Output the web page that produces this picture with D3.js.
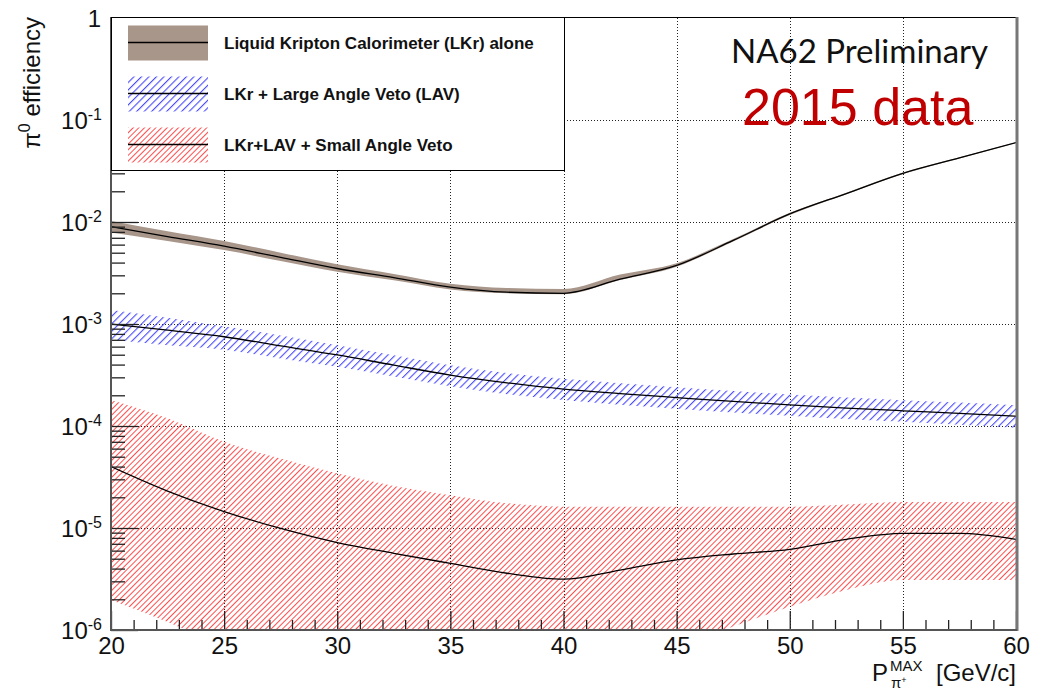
<!DOCTYPE html>
<html>
<head>
<meta charset="utf-8">
<script src="https://cdn.jsdelivr.net/npm/d3@7"></script>
<style>
  body { margin: 0; background: #fff; }
  svg { display: block; font-family: "Liberation Sans", Arial, sans-serif; }
</style>
</head>
<body>
<div id="chart"></div>
<script>
// momentum bins (GeV/c)
const pMax = [20, 22.5, 25, 27.5, 30, 32.5, 35, 37.5, 40, 42.5, 45, 47.5, 50, 52.5, 55, 57.5, 60];

// LKr alone
const lkrMid = [9.0e-3, 7.2e-3, 5.8e-3, 4.5e-3, 3.5e-3, 2.85e-3, 2.3e-3, 2.05e-3, 2.0e-3, 2.75e-3, 3.75e-3, 6.6e-3, 1.2e-2, 1.9e-2, 3.0e-2, 4.25e-2, 6.0e-2];
const lkrHi  = [1.02e-2, 8.1e-3, 6.5e-3, 5.0e-3, 3.85e-3, 3.1e-3, 2.48e-3, 2.25e-3, 2.2e-3, 3.05e-3, 3.95e-3, 6.8e-3, 1.23e-2, 1.94e-2, 3.05e-2, 4.32e-2, 6.05e-2];
const lkrLo  = [7.9e-3, 6.5e-3, 5.3e-3, 4.15e-3, 3.25e-3, 2.68e-3, 2.18e-3, 2.0e-3, 1.96e-3, 2.7e-3, 3.65e-3, 6.45e-3, 1.17e-2, 1.87e-2, 2.95e-2, 4.2e-2, 5.95e-2];

// LKr + LAV
const lavMid = [1.0e-3, 8.7e-4, 7.5e-4, 6.1e-4, 4.97e-4, 3.95e-4, 3.16e-4, 2.65e-4, 2.3e-4, 2.08e-4, 1.9e-4, 1.74e-4, 1.61e-4, 1.5e-4, 1.41e-4, 1.33e-4, 1.25e-4];
const lavHi  = [1.37e-3, 1.15e-3, 9.5e-4, 7.7e-4, 6.2e-4, 4.95e-4, 3.95e-4, 3.3e-4, 2.9e-4, 2.62e-4, 2.4e-4, 2.2e-4, 2.04e-4, 1.9e-4, 1.79e-4, 1.7e-4, 1.6e-4];
const lavLo  = [7.0e-4, 6.2e-4, 5.6e-4, 4.6e-4, 3.8e-4, 3.05e-4, 2.45e-4, 2.05e-4, 1.8e-4, 1.62e-4, 1.48e-4, 1.36e-4, 1.26e-4, 1.17e-4, 1.1e-4, 1.03e-4, 9.6e-5];

// LKr + LAV + SAV
const savMid = [4.0e-5, 2.3e-5, 1.45e-5, 9.9e-6, 7.2e-6, 5.65e-6, 4.5e-6, 3.6e-6, 3.15e-6, 3.87e-6, 4.86e-6, 5.56e-6, 6.18e-6, 7.75e-6, 8.87e-6, 8.87e-6, 7.75e-6];
const savHi  = [1.8e-4, 1.19e-4, 7.0e-5, 4.8e-5, 3.44e-5, 2.58e-5, 2.1e-5, 1.75e-5, 1.62e-5, 1.62e-5, 1.62e-5, 1.62e-5, 1.62e-5, 1.7e-5, 1.8e-5, 1.8e-5, 1.8e-5];
const savLo  = [1.97e-6, 1.2e-6, 7e-7, 5e-7, 4e-7, 4e-7, 4e-7, 4e-7, 4e-7, 5e-7, 7e-7, 1.08e-6, 1.69e-6, 2.47e-6, 3.1e-6, 3.1e-6, 3.1e-6];

const legendLabels = [
    "Liquid Kripton Calorimeter (LKr) alone",
    "LKr + Large Angle Veto (LAV)",
    "LKr+LAV + Small Angle Veto"
];
const xTicks = [20, 25, 30, 35, 40, 45, 50, 55, 60];
const xGrid = [25, 30, 35, 40, 45, 50, 55];
const yTicks = [1e-6, 1e-5, 1e-4, 1e-3, 1e-2, 1e-1, 1];
const yGrid = [1e-5, 1e-4, 1e-3, 1e-2, 1e-1];

const W = 1038, H = 690;
const L = 111, R = 1016, T = 18, B = 630;

const svg = d3.select("#chart").append("svg")
    .attr("width", W)
    .attr("height", H);

const x = d3.scaleLinear().domain([20, 60]).range([L, R]);
const y = d3.scaleLog().domain([1e-6, 1]).range([B, T]);

const defs = svg.append("defs");
defs.append("clipPath").attr("id", "plotClip")
    .append("rect").attr("x", L).attr("y", T).attr("width", R - L).attr("height", B - T);

// diagonal "/" hatching: a vertical bar in a rotated tile
function hatch(id, gap, color, w) {
    const p = defs.append("pattern").attr("id", id)
        .attr("patternUnits", "userSpaceOnUse")
        .attr("width", gap).attr("height", gap)
        .attr("patternTransform", "rotate(45)");
    p.append("rect")
        .attr("x", 0).attr("y", 0)
        .attr("width", w).attr("height", gap)
        .attr("fill", color);
}
hatch("hatchBlue", 5.3, "#4a4aff", 1.1);
hatch("hatchRed", 4, "#ff3a3a", 0.9);

// grid
const grid = svg.append("g").attr("stroke", "#222").attr("stroke-width", 1).attr("stroke-dasharray", "1,2");
grid.selectAll(".gx").data(xGrid).enter().append("line")
    .attr("x1", d => Math.round(x(d)) + 0.5).attr("x2", d => Math.round(x(d)) + 0.5)
    .attr("y1", T).attr("y2", B);
grid.selectAll(".gy").data(yGrid).enter().append("line")
    .attr("y1", d => Math.round(y(d)) + 0.5).attr("y2", d => Math.round(y(d)) + 0.5)
    .attr("x1", L).attr("x2", R);

// bands and lines
const series = [
    { mid: savMid, hi: savHi, lo: savLo, fill: "url(#hatchRed)" },
    { mid: lavMid, hi: lavHi, lo: lavLo, fill: "url(#hatchBlue)" },
    { mid: lkrMid, hi: lkrHi, lo: lkrLo, fill: "#a8968a" }
];

const area = d3.area().curve(d3.curveMonotoneX);
const line = d3.line().curve(d3.curveMonotoneX);
const plot = svg.append("g").attr("clip-path", "url(#plotClip)");

series.forEach(s => {
    const rows = pMax.map((p, i) => ({ p, mid: s.mid[i], hi: s.hi[i], lo: s.lo[i] }));
    plot.append("path")
        .datum(rows)
        .attr("fill", s.fill)
        .attr("d", area.x(d => x(d.p)).y0(d => y(d.lo)).y1(d => y(d.hi)));
    plot.append("path")
        .datum(rows)
        .attr("fill", "none")
        .attr("stroke", "#000")
        .attr("stroke-width", 1.3)
        .attr("d", line.x(d => x(d.p)).y(d => y(d.mid)));
});

// y axis ticks
const yMinor = [];
for (let e = -6; e < 0; e++) for (let k = 2; k <= 9; k++) yMinor.push(k * Math.pow(10, e));

svg.append("g").attr("transform", `translate(${L},0)`)
    .call(d3.axisRight(y).tickValues(yTicks).tickSize(27).tickFormat(""))
    .call(g => g.select(".domain").remove())
    .call(g => g.selectAll("line").attr("stroke", "#222").attr("stroke-width", 1.3));
svg.append("g").attr("transform", `translate(${L},0)`)
    .call(d3.axisRight(y).tickValues(yMinor).tickSize(14).tickFormat(""))
    .call(g => g.select(".domain").remove())
    .call(g => g.selectAll("line").attr("stroke", "#222").attr("stroke-width", 1.3));

// x axis ticks
const xMinor = d3.range(21, 60).filter(v => v % 5 !== 0);
svg.append("g").attr("transform", `translate(0,${B})`)
    .call(d3.axisTop(x).tickValues(xTicks).tickSize(19).tickFormat(""))
    .call(g => g.select(".domain").remove())
    .call(g => g.selectAll("line").attr("stroke", "#222").attr("stroke-width", 1.3));
svg.append("g").attr("transform", `translate(0,${B})`)
    .call(d3.axisTop(x).tickValues(xMinor).tickSize(10).tickFormat(""))
    .call(g => g.select(".domain").remove())
    .call(g => g.selectAll("line").attr("stroke", "#222").attr("stroke-width", 1.3));

// tick labels
svg.append("g").attr("transform", `translate(0,${B})`)
    .call(d3.axisBottom(x).tickValues(xTicks).tickSize(0).tickPadding(7).tickFormat(d3.format("d")))
    .call(g => g.select(".domain").remove())
    .call(g => g.selectAll("text").attr("font-size", 24).attr("fill", "#111")
        .attr("font-family", "Liberation Sans, Arial, sans-serif"));

const yLab = svg.append("g").attr("font-size", 24).attr("fill", "#111");
yTicks.forEach(v => {
    const e = Math.round(Math.log10(v));
    const t = yLab.append("text").attr("text-anchor", "end")
        .attr("x", 102).attr("y", y(v) + 9);
    if (e === 0) {
        t.attr("x", 101).text("1");
    } else {
        t.append("tspan").text("10");
        t.append("tspan").attr("font-size", 16).attr("dy", -9).text(String(e));
    }
});

// frame
svg.append("line").attr("x1", L).attr("x2", R + 1).attr("y1", T - 0.5).attr("y2", T - 0.5)
    .attr("stroke", "#000").attr("stroke-width", 1);
svg.append("line").attr("x1", R + 1).attr("x2", R + 1).attr("y1", T - 1).attr("y2", B + 1)
    .attr("stroke", "#777").attr("stroke-width", 3);
svg.append("line").attr("x1", L).attr("x2", L).attr("y1", T - 1).attr("y2", B + 1)
    .attr("stroke", "#555").attr("stroke-width", 2);
svg.append("line").attr("x1", L).attr("x2", R + 1).attr("y1", B).attr("y2", B)
    .attr("stroke", "#555").attr("stroke-width", 2);

// axis titles
const yTitle = svg.append("text").attr("transform", `translate(40,${T - 1}) rotate(-90)`)
    .attr("text-anchor", "end").attr("font-size", 24).attr("fill", "#111");
yTitle.append("tspan").text("\u03c0");
yTitle.append("tspan").attr("font-size", 16).attr("dy", -10).text("0");
yTitle.append("tspan").attr("dy", 10).text(" efficiency");

svg.append("text").attr("x", 872).attr("y", 681).attr("font-size", 24).attr("fill", "#111").text("P");
svg.append("text").attr("x", 890).attr("y", 671).attr("font-size", 15).attr("fill", "#111").text("MAX");
const sub = svg.append("text").attr("x", 891).attr("y", 688).attr("font-size", 15).attr("fill", "#111");
sub.append("tspan").text("\u03c0");
sub.append("tspan").attr("font-size", 9).attr("dy", -5).text("+");
svg.append("text").attr("x", R).attr("y", 681).attr("text-anchor", "end")
    .attr("font-size", 24).attr("fill", "#111").text("[GeV/c]");

// legend
const leg = svg.append("g");
leg.append("rect").attr("x", L + 0.5).attr("y", T - 0.5).attr("width", 564 - L).attr("height", 171 - T)
    .attr("fill", "#fff").attr("stroke", "#000").attr("stroke-width", 1);
const legFills = ["#a8968a", "url(#hatchBlue)", "url(#hatchRed)"];
const legY = [42.5, 93.5, 144.5];
legendLabels.forEach((lab, i) => {
    const cy = legY[i];
    leg.append("rect").attr("x", 128).attr("y", cy - 17).attr("width", 80).attr("height", 35)
        .attr("fill", legFills[i]);
    leg.append("line").attr("x1", 128).attr("x2", 208).attr("y1", cy).attr("y2", cy)
        .attr("stroke", "#000").attr("stroke-width", 1.3);
    leg.append("text").attr("x", 224).attr("y", cy + 6).attr("font-size", 17)
        .attr("font-weight", "bold").attr("fill", "#111").text(lab);
});

// annotations
svg.append("text").attr("x", 731).attr("y", 63).attr("font-family", "Lato, 'Open Sans', sans-serif")
    .attr("font-size", 33).attr("fill", "#111").text("NA62 Preliminary");
svg.append("text").attr("x", 742).attr("y", 125).attr("font-size", 52)
    .attr("fill", "#c00000").text("2015 data");
</script>
</body>
</html>
